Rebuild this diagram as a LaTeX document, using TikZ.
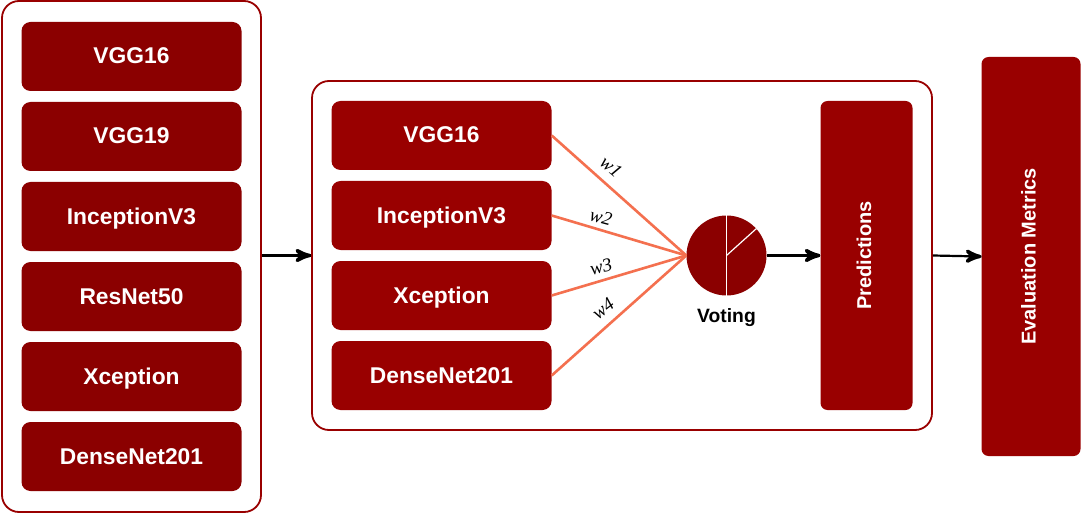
\documentclass[tikz,border=0pt]{standalone}
\usepackage{fontspec}
\usepackage{tikz}
\setmainfont{Liberation Sans}
\newfontfamily\weightfont{Liberation Serif}
\usetikzlibrary{arrows}
\usetikzlibrary{decorations.markings}
\usetikzlibrary{positioning}
\definecolor{boxred}{HTML}{990000}
\definecolor{listred}{HTML}{8B0000}
\definecolor{pinkline}{HTML}{F4704F}
\tikzset{->/.style = {decoration={markings,
                                  mark=at position 1 with {\arrow[scale=1.6]{stealth'}}},
                      postaction={decorate}, line width = 2.2}}
\tikzset{frame/.style = {draw = boxred, line width = 1.8, fill = white, rounded corners = 17, inner sep = 0}}
\tikzset{model/.style = {fill = boxred, text = white, rounded corners = 9, inner sep = 0, minimum width = 220, minimum height = 69,
                         text height = 16, text depth = 1, font = \fontsize{22.8}{26}\selectfont\bfseries}}
\tikzset{tall/.style = {fill = boxred, text = white, rounded corners = 7, inner sep = 0,
                        font = \fontsize{20}{24}\selectfont\bfseries}}
\tikzset{vote/.style = {draw = pinkline, line width = 2.6}}
\tikzset{weight/.style = {inner sep = 0, font = \fontsize{19}{22}\weightfont\itshape}}
\begin{document}
\begin{tikzpicture}[x = 1pt, y = -1pt]
      \useasboundingbox (0, 0) rectangle (1081, 513);
      % list of networks
      \node [frame, minimum width = 259, minimum height = 511] (all) at (131.5, 256.5) {};
      \foreach \name/\txt/\ypos in {a1/VGG16/56.5, a2/VGG19/136.5, a3/InceptionV3/216.5, a4/ResNet50/296.5, a5/Xception/376.5, a6/DenseNet201/456.5}
        \node [model, fill = listred] (\name) at (131.5, \ypos) {\txt};
      % ensemble
      \node [frame, minimum width = 620, minimum height = 349] (ens) at (622, 255.5) {};
      \foreach \name/\txt/\ypos in {m1/VGG16/135.5, m2/InceptionV3/215.5, m3/Xception/295.5, m4/DenseNet201/375.5}
        \node [model] (\name) at (441.5, \ypos) {\txt};
      \node [tall, minimum width = 92, minimum height = 309] (pred) at (866.5, 255.5) {\hspace*{-5pt}\rotatebox{90}{Predictions}};
      \node [tall, minimum width = 99, minimum height = 399] (eval) at (1031, 256.5) {\hspace*{-5pt}\rotatebox{90}{Evaluation Metrics}};
      % voting
      \node [circle, fill = listred, inner sep = 0, minimum size = 80] (pie) at (726.5, 255.5) {};
      \node [inner sep = 0, font = \fontsize{19.3}{23}\selectfont\bfseries, below = 13pt of pie] (lbl) {Voting};
      \draw [white, line width = 1.2] (pie.north) -- (pie.south);
      \draw [white, line width = 1.2] (pie.center) -- (pie.42);
      \foreach \name in {m1, m2, m3, m4}
        \draw [vote] (\name.east) -- (pie.west);
      \node [weight, rotate = -40] (w1) at (611, 167) {w1};
      \node [weight, rotate = -15] (w2) at (601, 217) {w2};
      \node [weight, rotate = 15] (w3) at (601, 267) {w3};
      \node [weight, rotate = 38] (w4) at (603, 309) {w4};
      % arrows
      \draw [->] (all.east |- ens.west) -- (ens.west);
      \draw [->] (pie.east) -- (pred.west);
      \draw [->] (ens.east) -- (eval.west);
    \end{tikzpicture}
\end{document}
